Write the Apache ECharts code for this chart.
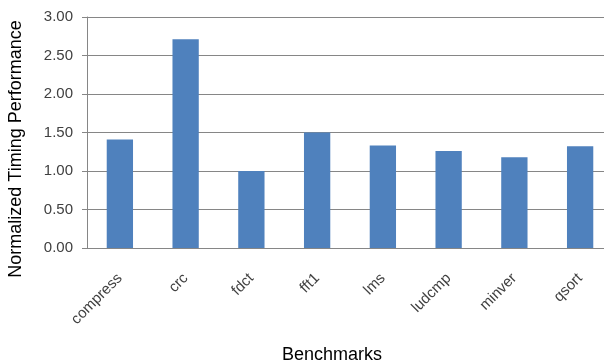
<!DOCTYPE html>
<html>
<head>
<meta charset="utf-8">
<script src="https://cdn.jsdelivr.net/npm/echarts@6/dist/echarts.min.js"></script>
<style>
  html, body { margin: 0; padding: 0; background: #ffffff; overflow: hidden; }
  /* the plot runs a little past the right edge of the window */
  #chart { width: 613px; height: 363px; }
</style>
</head>
<body>
<div id="chart"></div>
<script>
// Benchmark names along the category axis
const benchmarks = ['compress', 'crc', 'fdct', 'fft1', 'lms', 'ludcmp', 'minver', 'qsort'];
// Normalized timing performance per benchmark
const timing = [1.41, 2.71, 1.00, 1.50, 1.33, 1.26, 1.18, 1.32];
// Value axis range and step
const yMin = 0;
const yMax = 3;
const yStep = 0.5;

const xTitle = 'Benchmarks';
const yTitle = 'Normalized Timing Performance';

const chart = echarts.init(document.getElementById('chart'), null, { renderer: 'canvas' });

const labelFont = 'Liberation Sans, Arial, sans-serif';

chart.setOption({
  backgroundColor: '#ffffff',
  animation: false,
  grid: { left: 87, top: 17, bottom: 115, right: 0, containLabel: false },
  xAxis: {
    type: 'category',
    data: benchmarks,
    axisLine: { show: true, lineStyle: { color: '#868686', width: 1 } },
    axisTick: { show: false },
    axisLabel: {
      rotate: 45,
      margin: 28,
      fontFamily: labelFont,
      fontSize: 15,
      color: '#404040',
      interval: 0
    },
    splitLine: { show: false }
  },
  yAxis: {
    type: 'value',
    min: yMin,
    max: yMax,
    interval: yStep,
    axisLine: { show: true, lineStyle: { color: '#868686', width: 1 } },
    axisTick: { show: true, length: 5, lineStyle: { color: '#868686' } },
    axisLabel: {
      margin: 14,
      fontFamily: labelFont,
      fontSize: 15,
      color: '#404040',
      formatter: v => v.toFixed(2)
    },
    splitLine: { show: true, lineStyle: { color: '#868686', width: 1 } }
  },
  series: [{
    type: 'bar',
    data: timing,
    barWidth: '40%',
    itemStyle: { color: '#4f81bd' }
  }],
  graphic: [
    {
      type: 'text',
      x: 332,
      y: 355,
      style: {
        text: xTitle,
        font: '18px Liberation Sans, Arial, sans-serif',
        fill: '#000000',
        textAlign: 'center',
        textVerticalAlign: 'middle'
      }
    },
    {
      type: 'text',
      x: 16,
      y: 149,
      rotation: Math.PI / 2,
      style: {
        text: yTitle,
        font: '18px Liberation Sans, Arial, sans-serif',
        fill: '#000000',
        textAlign: 'center',
        textVerticalAlign: 'middle'
      }
    }
  ]
});
</script>
</body>
</html>
